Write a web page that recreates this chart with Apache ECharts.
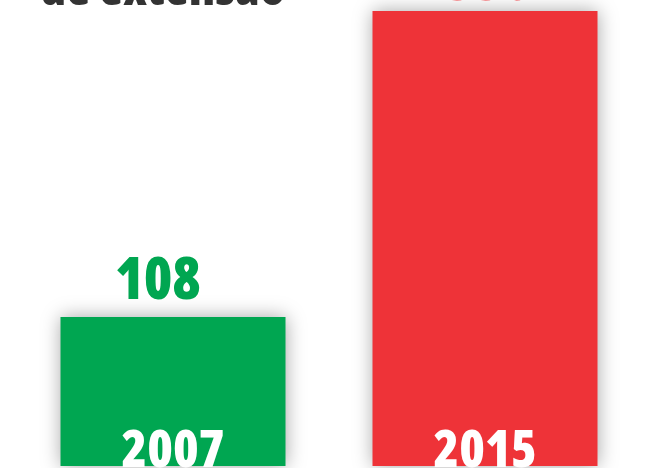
<!DOCTYPE html>
<html>
<head>
<meta charset="utf-8">
<script src="https://cdn.jsdelivr.net/npm/echarts@6/dist/echarts.min.js"></script>
<style>
  html, body { margin: 0; padding: 0; background: #fff; }
  #chart { width: 667px; height: 468px; }
</style>
</head>
<body>
<div id="chart"></div>
<script>
  // dados
  var anos = ['2007', '2015']
  var extensao = [108, 330]
  var cores = ['#00A651', '#EE3338']
  var titulo = 'de extensão'

  // Open Sans variável aceita 'condensed' no lugar do fontStyle
  var estilo = 'condensed'
  var fonte = '"Open Sans", sans-serif'

  var chart = echarts.init(document.getElementById('chart'))
  chart.setOption({
    animation: false,
    grid: {
      left: 17,
      right: 26,
      top: 11,
      bottom: 2,
      outerBoundsMode: 'none'
    },
    graphic: [{
      type: 'text',
      left: 40,
      top: -34,
      style: {
        text: titulo,
        fill: '#333333',
        font: 'condensed 800 50px ' + fonte
      }
    }],
    xAxis: {
      type: 'category',
      data: anos,
      axisLine: { show: false },
      axisTick: { show: false },
      axisLabel: {
        inside: true,
        margin: -12,
        color: '#fff',
        fontFamily: fonte,
        fontStyle: estilo,
        fontWeight: 800,
        fontSize: 52
      },
      z: 10
    },
    yAxis: {
      type: 'value',
      min: 0,
      max: 330,
      show: false,
      splitLine: { show: false }
    },
    series: [{
      type: 'bar',
      barWidth: 225,
      data: extensao.map(function (v, i) {
        return {
          value: v,
          itemStyle: { color: cores[i] },
          label: {
            color: cores[i],
            distance: i === 0 ? 6 : -1,
            offset: i === 0 ? [-15, 0] : [3, 0]
          }
        }
      }),
      itemStyle: {
        shadowBlur: 18,
        shadowColor: 'rgba(0,0,0,0.35)'
      },
      label: {
        show: true,
        position: 'top',
        fontFamily: fonte,
        fontStyle: estilo,
        fontWeight: 800,
        fontSize: 58
      }
    }]
  })
</script>
</body>
</html>
